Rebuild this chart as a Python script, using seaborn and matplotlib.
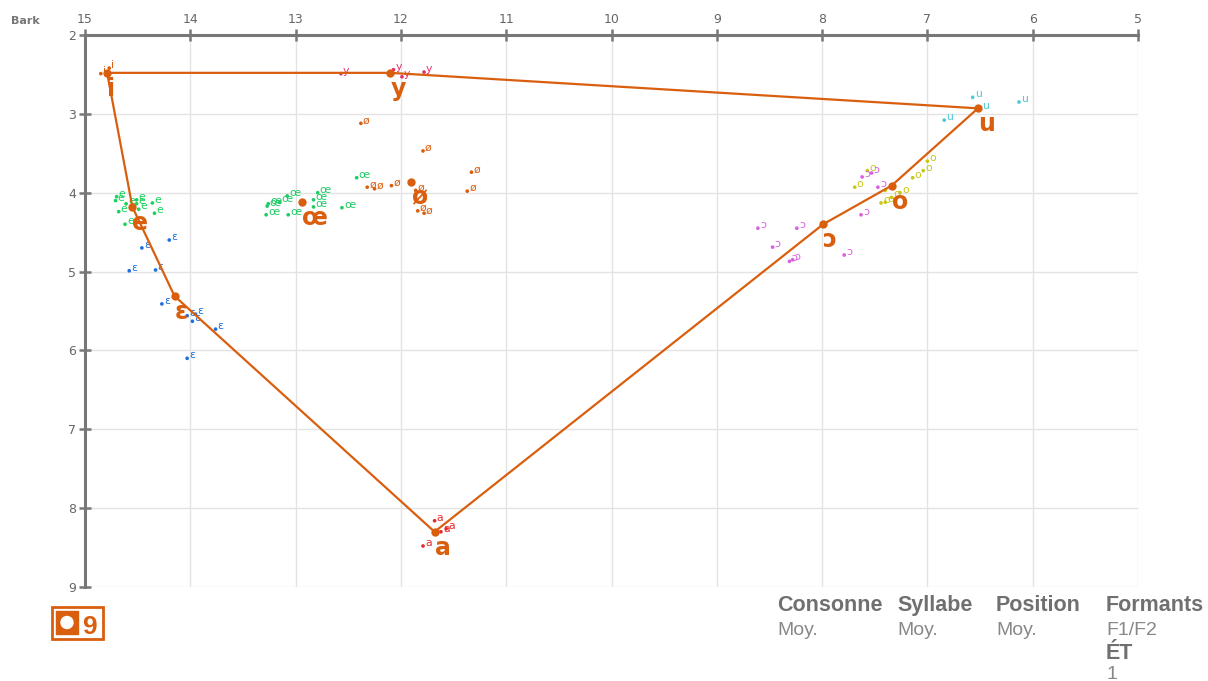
import pandas as pd
import seaborn as sns
import matplotlib.pyplot as plt
from matplotlib.patches import Rectangle, Ellipse

# mean formants per vowel (F2 bark, F1 bark)
vowels = ['i', 'y', 'u', 'o', 'ɔ', 'a', 'ɛ', 'e', 'œ', 'ø']
mean_f2 = [14.79, 12.10, 6.52, 7.34, 7.99, 11.68, 14.15, 14.55, 12.94, 11.90]
mean_f1 = [2.48, 2.48, 2.93, 3.91, 4.40, 8.30, 5.31, 4.18, 4.12, 3.86]

# polygon order
contour = ['i', 'e', 'ɛ', 'a', 'ɔ', 'o', 'u', 'y', 'i']

# individual tokens
tok_i_f2 = [14.85, 14.77]
tok_i_f1 = [2.49, 2.42]
tok_y_f2 = [12.57, 12.07, 11.99, 11.78]
tok_y_f1 = [2.49, 2.44, 2.53, 2.47]
tok_u_f2 = [6.57, 6.13, 6.84, 6.50]
tok_u_f1 = [2.79, 2.85, 3.08, 2.94]
tok_o_f2 = [7.69, 7.57, 7.14, 7.00, 7.04, 7.44, 7.40, 7.34, 7.26, 7.40]
tok_o_f1 = [3.93, 3.72, 3.81, 3.60, 3.72, 4.13, 3.97, 4.06, 4.00, 4.12]
tok_oo_f2 = [8.61, 8.24, 8.47, 8.31, 8.28, 7.79, 7.63, 7.47, 7.53, 7.62]
tok_oo_f1 = [4.45, 4.45, 4.69, 4.87, 4.85, 4.79, 4.28, 3.93, 3.75, 3.80]
tok_a_f2 = [11.68, 11.62, 11.57, 11.79]
tok_a_f1 = [8.16, 8.30, 8.26, 8.48]
tok_eps_f2 = [14.20, 14.46, 14.58, 14.33, 14.27, 14.03, 13.98, 13.95, 13.76, 14.03]
tok_eps_f1 = [4.60, 4.70, 4.99, 4.98, 5.41, 5.56, 5.63, 5.54, 5.73, 6.10]
tok_e_f2 = [14.71, 14.70, 14.68, 14.61, 14.51, 14.51, 14.36, 14.34, 14.62, 14.49]
tok_e_f1 = [4.10, 4.05, 4.24, 4.14, 4.14, 4.09, 4.13, 4.26, 4.40, 4.21]
tok_oe_f2 = [13.27, 13.28, 13.26, 13.15, 13.07, 13.08, 12.83, 12.83, 12.79, 12.56, 12.42]
tok_oe_f1 = [4.17, 4.28, 4.14, 4.12, 4.28, 4.04, 4.09, 4.18, 4.00, 4.19, 3.81]
tok_eu_f2 = [12.38, 11.79, 11.33, 11.37, 12.32, 12.25, 12.09, 11.86, 11.84, 11.78]
tok_eu_f1 = [3.12, 3.47, 3.74, 3.98, 3.93, 3.95, 3.91, 3.97, 4.23, 4.26]

palette = {'i': '#d95f0e', 'y': '#e3306a', 'u': '#4cc8d8', 'o': '#c8c814',
           'ɔ': '#d860e0', 'a': '#e82a2a', 'ɛ': '#1f6fdc', 'e': '#19d35a',
           'œ': '#1fcc66', 'ø': '#d95f0e'}
orange = '#d95f0e'
grey = '#777777'

tokens = [('i', tok_i_f2, tok_i_f1), ('y', tok_y_f2, tok_y_f1),
          ('u', tok_u_f2, tok_u_f1), ('o', tok_o_f2, tok_o_f1),
          ('ɔ', tok_oo_f2, tok_oo_f1), ('a', tok_a_f2, tok_a_f1),
          ('ɛ', tok_eps_f2, tok_eps_f1), ('e', tok_e_f2, tok_e_f1),
          ('œ', tok_oe_f2, tok_oe_f1), ('ø', tok_eu_f2, tok_eu_f1)]
rows = []
for v, f2s, f1s in tokens:
    for a, b in zip(f2s, f1s):
        rows.append({'vowel': v, 'F2': a, 'F1': b})
tok_df = pd.DataFrame(rows)
mean_df = pd.DataFrame({'vowel': vowels, 'F2': mean_f2, 'F1': mean_f1})
poly_df = mean_df.set_index('vowel').loc[contour].reset_index()

sns.set_style("whitegrid")
plt.rcParams['font.family'] = ['DejaVu Sans']

fig = plt.figure(figsize=(12.08, 6.81), dpi=100)
ax = fig.add_axes([85 / 1208, 1 - 587 / 681, (1138 - 85) / 1208, (587 - 35) / 681])

# tokens
sns.scatterplot(data=tok_df, x='F2', y='F1', hue='vowel', palette=palette,
                s=7, linewidth=0, legend=False, ax=ax, zorder=3)
for _, r in tok_df.iterrows():
    ax.annotate(r['vowel'], (r['F2'], r['F1']), xytext=(2, 0),
                textcoords='offset pixels', va='baseline', ha='left',
                fontsize=7.8, color=palette[r['vowel']], zorder=3)

# contour and means
sns.lineplot(data=poly_df, x='F2', y='F1', sort=False, estimator=None,
             color=orange, lw=1.6, ax=ax, zorder=4)
sns.scatterplot(data=mean_df, x='F2', y='F1', color=orange, s=36,
                linewidth=0, ax=ax, zorder=5)
for v, a, b in zip(vowels, mean_f2, mean_f1):
    ax.annotate(v, (a, b), xytext=(0, -23), textcoords='offset pixels',
                va='baseline', ha='left', fontsize=17, fontweight='bold',
                color=orange, zorder=5)

ax.set_xlim(15, 5)
ax.set_ylim(9, 2)
ax.set_xticks(range(5, 16))
ax.set_yticks(range(2, 10))
ax.set_xlabel('')
ax.set_ylabel('')
ax.xaxis.tick_top()
ax.grid(True, color='#e3e3e3', lw=1)
ax.set_facecolor('white')
for side in ['right', 'bottom']:
    ax.spines[side].set_visible(False)
for side in ['top', 'left']:
    ax.spines[side].set_visible(True)
    ax.spines[side].set_color(grey)
    ax.spines[side].set_linewidth(2.2)
ax.tick_params(axis='both', direction='inout', length=9, width=1.8,
               color=grey, labelcolor='#666666', labelsize=9, pad=2)
ax.tick_params(axis='x', top=True, bottom=False, labeltop=True, labelbottom=False)
ax.tick_params(axis='y', left=True, right=False)
for sp in ax.spines.values():
    sp.set_zorder(6)

fig.text(11 / 1208, 1 - 24 / 681, 'Bark', fontsize=8, fontweight='bold',
         color=grey, ha='left', va='baseline')

# legend box bottom left
fig.patches.append(Rectangle((52 / 1208, 1 - 639 / 681), 51 / 1208, 32 / 681,
                             transform=fig.transFigure, fill=False,
                             edgecolor=orange, lw=2))
fig.patches.append(Rectangle((56 / 1208, 1 - 634 / 681), 22 / 1208, 23 / 681,
                             transform=fig.transFigure, color=orange))
fig.patches.append(Ellipse((67 / 1208, 1 - 622.5 / 681), 12 / 1208, 12 / 681,
                           transform=fig.transFigure, color='white'))
fig.text(82 / 1208, 1 - 634 / 681, '9', fontsize=19, fontweight='bold',
         color=orange, ha='left', va='baseline', family='Liberation Sans')

# info block bottom right
info = [(777, 'Consonne', ['Moy.']), (897, 'Syllabe', ['Moy.']),
        (996, 'Position', ['Moy.']), (1106, 'Formants', ['F1/F2'])]
for x, head, vals in info:
    fig.text(x / 1208, 1 - 611 / 681, head, fontsize=15.5, fontweight='bold',
             color='#707070', family='Liberation Sans', va='baseline')
    for k, val in enumerate(vals):
        fig.text(x / 1208, 1 - (635 + 24 * k) / 681, val, fontsize=14,
                 color='#888888', family='Liberation Sans', va='baseline')
fig.text(1106 / 1208, 1 - 659 / 681, 'ÉT', fontsize=15.5, fontweight='bold',
         color='#707070', family='Liberation Sans', va='baseline')
fig.text(1106 / 1208, 1 - 679 / 681, '1', fontsize=14, color='#888888',
         family='Liberation Sans', va='baseline')

fig.savefig('out.png', dpi=100, facecolor='white')
